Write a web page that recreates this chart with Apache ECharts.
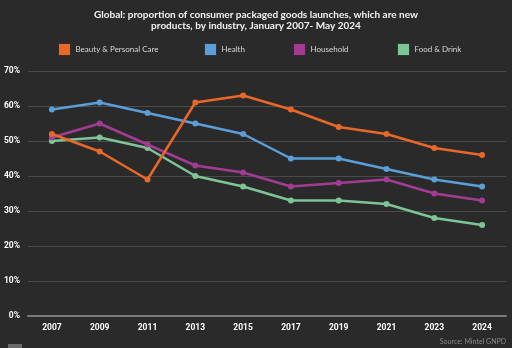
<!DOCTYPE html>
<html>
<head>
<meta charset="utf-8">
<script src="https://cdn.jsdelivr.net/npm/echarts@6/dist/echarts.min.js"></script>
<style>
  html, body { margin: 0; padding: 0; background: #2a2a2a; }
  #chart { width: 512px; height: 348px; }
</style>
</head>
<body>
<div id="chart"></div>
<script>
// Share of CPG launches that are new products, by industry
const years = ['2007', '2009', '2011', '2013', '2015', '2017', '2019', '2021', '2023', '2024'];
const beauty = [52, 47, 39, 61, 63, 59, 54, 52, 48, 46];
const health = [59, 61, 58, 55, 52, 45, 45, 42, 39, 37];
const household = [51, 55, 49, 43, 41, 37, 38, 39, 35, 33];
const foodDrink = [50, 51, 48, 40, 37, 33, 33, 32, 28, 26];

const seriesNames = ['Beauty & Personal Care', 'Health', 'Household', 'Food & Drink'];
const seriesData = [beauty, health, household, foodDrink];
const colors = ['#e8682a', '#5b9fd9', '#a23c92', '#7dc597'];
const borderColors = ['#3a2a20', '#2a3540', '#3a2535', '#2a3a30'];
const legendLeft = [58, 204, 293, 397];

const chart = echarts.init(document.getElementById('chart'));

const legends = seriesNames.map((name, i) => ({
  data: [name],
  left: legendLeft[i],
  top: 43,
  padding: 0,
  icon: 'rect',
  itemWidth: 12,
  itemHeight: 12,
  itemGap: 0,
  itemStyle: { borderColor: borderColors[i], borderWidth: 1 },
  textStyle: { color: '#d8d8d8', fontSize: 8, fontFamily: 'Lato' },
  selectedMode: false
}));

chart.setOption({
  backgroundColor: '#2a2a2a',
  animation: false,
  title: {
    text: 'Global: proportion of consumer packaged goods launches, which are new\nproducts, by industry, January 2007- May 2024',
    left: 256,
    textAlign: 'center',
    top: 9,
    padding: 0,
    textStyle: { color: '#f2f2f2', fontSize: 10, fontWeight: 'bold', fontFamily: 'Lato', lineHeight: 11.5 }
  },
  legend: legends,
  graphic: [
    {
      type: 'text',
      right: 6,
      top: 338,
      style: { text: 'Source: Mintel GNPD', fill: '#8a8a8a', font: '7px Lato' }
    },
    {
      type: 'rect',
      left: 8,
      top: 344,
      shape: { width: 14, height: 4 },
      style: { fill: '#6a6a6a' }
    }
  ],
  grid: { left: 28, right: 6, top: 71, bottom: 32, containLabel: false },
  xAxis: {
    type: 'category',
    data: years,
    boundaryGap: true,
    axisLine: { lineStyle: { color: '#7a7a7a', width: 2 } },
    axisTick: { show: false },
    axisLabel: { color: '#ffffff', fontSize: 8.5, fontWeight: 'bold', fontFamily: 'Roboto', margin: 7 }
  },
  yAxis: {
    type: 'value',
    min: 0,
    max: 70,
    interval: 10,
    axisLine: { show: false },
    axisTick: { show: false },
    axisLabel: { formatter: '{value}%', color: '#ffffff', fontSize: 8.5, fontWeight: 'bold', fontFamily: 'Roboto', margin: 8 },
    splitLine: { lineStyle: { color: '#4a4a4a', width: 1 } }
  },
  series: seriesNames.map((name, i) => ({
    name: name,
    type: 'line',
    data: seriesData[i],
    color: colors[i],
    symbol: 'circle',
    symbolSize: 6,
    lineStyle: { width: 2.5, color: colors[i] },
    itemStyle: { color: colors[i] },
    z: 10 - i
  }))
});
</script>
</body>
</html>
